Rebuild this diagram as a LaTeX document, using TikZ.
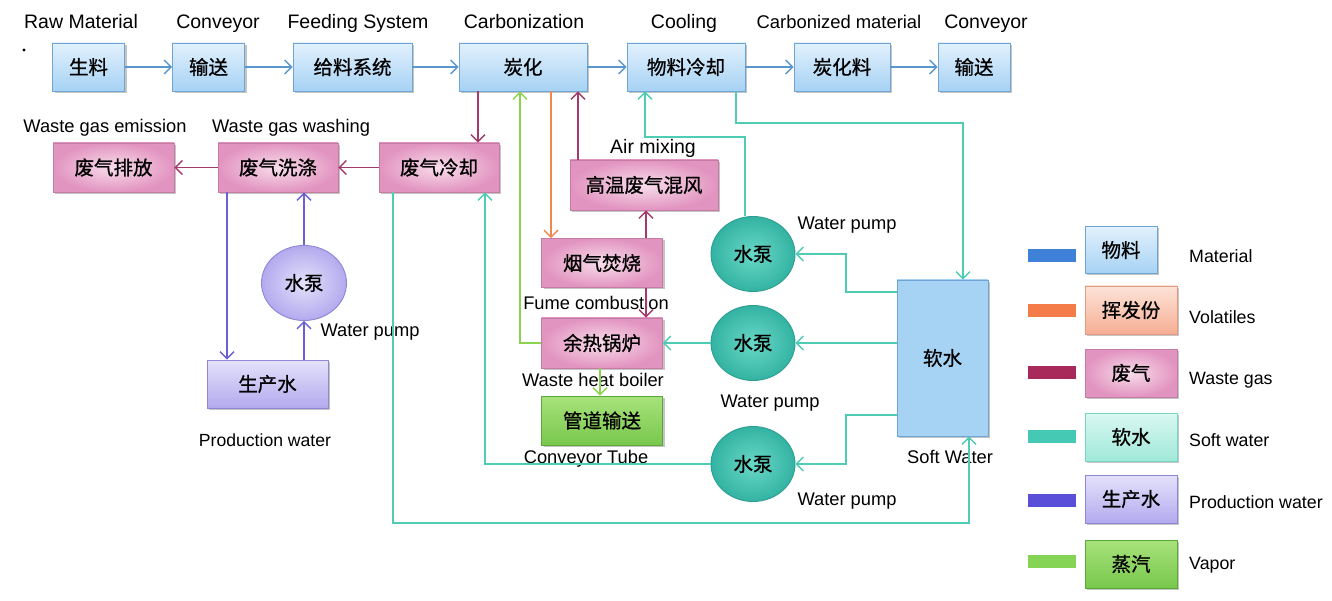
\documentclass[tikz,border=0pt]{standalone}
\usepackage{fontspec}
\setmainfont{Liberation Sans}
\newfontfamily\cjk{Noto Sans CJK SC}[FakeBold=0.8]
\usetikzlibrary{arrows.meta,shadows,shapes.geometric,calc}
\definecolor{matline}{HTML}{5B97CF}
\definecolor{wgline}{HTML}{A43A6A}
\definecolor{volline}{HTML}{F0884E}
\definecolor{vapline}{HTML}{8CD450}
\definecolor{swline}{HTML}{4ECDB4}
\definecolor{pwline}{HTML}{6A60D4}
\definecolor{blueA}{HTML}{E2F1FD}
\definecolor{blueB}{HTML}{A6D2F4}
\definecolor{blueD}{HTML}{6FA4D4}
\definecolor{pinkA}{HTML}{F8DDEB}
\definecolor{pinkB}{HTML}{E294C0}
\definecolor{pinkD}{HTML}{C47CA4}
\definecolor{tealA}{HTML}{6AD8C8}
\definecolor{tealB}{HTML}{33B3A2}
\definecolor{tealD}{HTML}{2E9E90}
\definecolor{lavA}{HTML}{E4E1FB}
\definecolor{lavB}{HTML}{B3AAEE}
\definecolor{lavD}{HTML}{8E86D6}
\definecolor{grnA}{HTML}{A8E27C}
\definecolor{grnB}{HTML}{78C84C}
\definecolor{grnD}{HTML}{5AA83A}
\definecolor{peachA}{HTML}{FDE3D8}
\definecolor{peachB}{HTML}{F6AE94}
\definecolor{peachD}{HTML}{E39A80}
\definecolor{ltealA}{HTML}{DAF8F2}
\definecolor{ltealB}{HTML}{9FE8D8}
\definecolor{ltealD}{HTML}{7AD4C2}
\definecolor{barmat}{HTML}{3F80D8}
\definecolor{barvol}{HTML}{F47C48}
\definecolor{barwg}{HTML}{A82A5A}
\definecolor{barsw}{HTML}{45C9B5}
\definecolor{barpw}{HTML}{5A4FD8}
\definecolor{barvap}{HTML}{86D455}
\begin{document}
\begin{tikzpicture}[x=1pt,y=-1pt,
  every node/.style={inner sep=0pt},
  box/.style={draw, line width=0.9pt, font=\cjk\fontsize{19.5}{19.5}\selectfont,
    drop shadow={shadow xshift=2pt, shadow yshift=-2pt, fill=black!45, opacity=.5}},
  bluebox/.style={box, draw=blueD, top color=blueA, bottom color=blueB},
  tankbox/.style={box, draw=blueD, top color=blueB, middle color=blueA, bottom color=blueB},
  pinkbox/.style={box, draw=pinkD, inner color=pinkA, outer color=pinkB},
  lavbox/.style={box, draw=lavD, top color=lavA, bottom color=lavB},
  grnbox/.style={box, draw=grnD, top color=grnA, bottom color=grnB},
  peachbox/.style={box, draw=peachD, top color=peachA, bottom color=peachB},
  ltealbox/.style={box, draw=ltealD, top color=ltealA, bottom color=ltealB},
  tealpump/.style={ellipse, draw=tealD, line width=0.9pt, inner color=tealA, outer color=tealB,
    minimum width=84pt, minimum height=75pt, font=\cjk\fontsize{19.5}{19.5}\selectfont},
  lavpump/.style={ellipse, draw=lavD, line width=0.9pt, inner color=lavA, outer color=lavB,
    minimum width=85pt, minimum height=75pt, font=\cjk\fontsize{19.5}{19.5}\selectfont},
  lbl/.style={font=\fontsize{18.3}{18.3}\selectfont, text height=13.2pt, text depth=0pt},
  toplbl/.style={font=\fontsize{19.5}{19.5}\selectfont, text height=14pt, text depth=0pt},
  toplblc/.style={font=\fontsize{18.4}{18.4}\selectfont, text height=13.8pt, text depth=0pt},
  clbl/.style={font=\fontsize{17.6}{17.6}\selectfont, text height=13pt, text depth=0pt},
  legtxt/.style={font=\fontsize{17.8}{17.8}\selectfont, text height=13pt, text depth=0pt, anchor=west},
  conn/.style={line width=1.5pt, -{Straight Barb[length=7pt,width=14pt,line width=1.4pt]}},
  mat/.style={conn, draw=matline},
  wg/.style={conn, draw=wgline},
  vol/.style={conn, draw=volline},
  vap/.style={conn, draw=vapline},
  sw/.style={conn, draw=swline},
  pw/.style={conn, draw=pwline},
  bar/.style={minimum width=48pt, minimum height=13pt}
]
\useasboundingbox[fill=white] (0,0) rectangle (1332,601);

% ---- top row
\node[bluebox, minimum width=72pt, minimum height=48pt] (raw) at (88.5,67) {生料};
\node[bluebox, minimum width=72pt, minimum height=48pt] (conv1) at (208.5,67) {输送};
\node[bluebox, minimum width=119pt, minimum height=48pt] (feed) at (352.5,67) {给料系统};
\node[bluebox, minimum width=128pt, minimum height=48pt] (carb) at (523,67) {炭化};
\node[bluebox, minimum width=118pt, minimum height=48pt] (cool) at (686,67) {物料冷却};
\node[bluebox, minimum width=96pt, minimum height=48pt] (cmat) at (842,67) {炭化料};
\node[bluebox, minimum width=72pt, minimum height=48pt] (conv2) at (974,67) {输送};

\node[toplbl] (lraw) at (81,22) {Raw Material};
\node[toplbl] (lconv1) at (218,22) {Conveyor};
\node[toplbl] (lfeed) at (358,22) {Feeding System};
\node[toplbl] (lcarb) at (524,22) {Carbonization};
\node[toplbl] (lcool) at (684,22) {Cooling};
\node[toplblc] (lcmat) at (839,22) {Carbonized material};
\node[toplbl] (lconv2) at (986,22) {Conveyor};
\fill (24,50) circle (1.6pt);

% ---- waste gas row
\node[pinkbox, minimum width=121pt, minimum height=49pt] (emit) at (113.5,167.5) {废气排放};
\node[pinkbox, minimum width=120pt, minimum height=49pt] (wash) at (278,167.5) {废气洗涤};
\node[pinkbox, minimum width=120pt, minimum height=49pt] (wgcool) at (439,167.5) {废气冷却};
\node[pinkbox, minimum width=148pt, minimum height=50pt] (mix) at (644,185) {高温废气混风};
\node[pinkbox, minimum width=121pt, minimum height=49pt] (fume) at (602,263) {烟气焚烧};
\node[pinkbox, minimum width=121pt, minimum height=50pt] (boiler) at (602,343) {余热锅炉};
\node[grnbox, minimum width=121pt, minimum height=49pt] (tube) at (602,420.5) {管道输送};
\node[lavbox, minimum width=121pt, minimum height=48pt] (prod) at (267.5,384) {生产水};
\node[lavpump] (ppump) at (304,283) {水泵};
\node[tealpump] (pump1) at (753,254) {水泵};
\node[tealpump] (pump2) at (753,343) {水泵};
\node[tealpump] (pump3) at (753,464) {水泵};
\node[tankbox, minimum width=91pt, minimum height=156pt] (soft) at (942.5,358) {软水};

\node[lbl] (lemit) at (105,126) {Waste gas emission};
\node[lbl] (lwash) at (291,126) {Waste gas washing};
\node[toplbl] (lmix) at (653,147) {Air mixing};
\node[lbl] (lpump1) at (847,223) {Water pump};
\node[lbl] (lfume) at (596,303) {Fume combustion};
\node[lbl] (lppump) at (370,330) {Water pump};
\node[lbl] (lboiler) at (593,380) {Waste heat boiler};
\node[lbl] (lpump2) at (770,401) {Water pump};
\node[clbl] (lprod) at (265,440) {Production water};
\node[lbl] (ltube) at (586,457) {Conveyor Tube};
\node[lbl] (lsoft) at (950,457) {Soft Water};
\node[lbl] (lpump3) at (847,499) {Water pump};

% ---- helper coordinates
\coordinate (x227) at (227,0);
\coordinate (x304) at (304,0);
\coordinate (x393) at (393,0);
\coordinate (x478) at (478,0);
\coordinate (x485) at (485,0);
\coordinate (x520) at (520,0);
\coordinate (x551) at (551,0);
\coordinate (x578) at (578,0);
\coordinate (x600) at (600,0);
\coordinate (x645) at (645,0);
\coordinate (x646) at (646,0);
\coordinate (x736) at (736,0);
\coordinate (c1) at (963,123);
\coordinate (c2) at (745,137);
\coordinate (c3) at (846,292);
\coordinate (c4) at (846,254);
\coordinate (c6) at (846,415);
\coordinate (c7) at (846,464);
\coordinate (c5) at (969,523);

% ---- material flow
\draw[mat] (raw) -- (conv1);
\draw[mat] (conv1) -- (feed);
\draw[mat] (feed) -- (carb);
\draw[mat] (carb) -- (cool);
\draw[mat] (cool) -- (cmat);
\draw[mat] (cmat) -- (conv2);

% ---- waste gas
\draw[wg] (carb.south -| x478) -- (wgcool.north -| x478);
\draw[wg] (wgcool) -- (wash);
\draw[wg] (wash) -- (emit);
\draw[wg] (mix.north -| x578) -- (carb.south -| x578);
\draw[wg] (fume.north -| x646) -- (mix.south -| x646);
\draw[wg] (fume.south -| x646) -- (boiler.north -| x646);

% ---- volatiles
\draw[vol] (carb.south -| x551) -- (fume.north -| x551);

% ---- vapor
\draw[vap] (boiler.west) -| (carb.south -| x520);
\draw[vap] (boiler.south -| x600) -- (tube.north -| x600);

% ---- soft water
\draw[sw] (cool.south -| x736) |- (c1) -- (soft.north -| c1);
\draw[sw] (pump1.north -| c2) -- (c2) -| (cool.south -| x645);
\draw[sw] (c3 -| soft.west) -- (c3) -- (c4) -- (pump1.east);
\draw[sw] (pump2.east -| soft.west) -- (pump2.east);
\draw[sw] (c6 -| soft.west) -- (c6) -- (c7) -- (pump3.east);
\draw[sw] (pump2.west) -- (boiler.east);
\draw[sw] (pump3.west) -| (wgcool.south -| x485);
\draw[sw] (wgcool.south -| x393) |- (c5) -- (soft.south -| c5);

% ---- production water
\draw[pw] (wash.south -| x227) -- (prod.north -| x227);
\draw[pw] (prod.north -| x304) -- (ppump.south);
\draw[pw] (ppump.north) -- (wash.south -| x304);

% ---- legend
\node[bar, fill=barmat] (b1) at (1052,256) {};
\node[bar, fill=barvol] (b2) at (1052,311) {};
\node[bar, fill=barwg] (b3) at (1052,372) {};
\node[bar, fill=barsw] (b4) at (1052,436) {};
\node[bar, fill=barpw] (b5) at (1052,500) {};
\node[bar, fill=barvap] (b6) at (1052,561) {};
\node[bluebox, minimum width=72pt, minimum height=47pt] (g1) at (1121,250) {物料};
\node[peachbox, minimum width=92pt, minimum height=48pt] (g2) at (1131,310) {挥发份};
\node[pinkbox, minimum width=92pt, minimum height=48pt] (g3) at (1131,373) {废气};
\node[ltealbox, minimum width=92pt, minimum height=48pt] (g4) at (1131,437) {软水};
\node[lavbox, minimum width=92pt, minimum height=48pt] (g5) at (1131,499) {生产水};
\node[grnbox, minimum width=92pt, minimum height=48pt] (g6) at (1131,564) {蒸汽};
\node[legtxt] (t1) at (1189,256) {Material};
\node[legtxt] (t2) at (1189,317) {Volatiles};
\node[legtxt] (t3) at (1189,378) {Waste gas};
\node[legtxt] (t4) at (1189,440) {Soft water};
\node[legtxt] (t5) at (1189,502) {Production water};
\node[legtxt] (t6) at (1189,563) {Vapor};
\end{tikzpicture}
\end{document}
